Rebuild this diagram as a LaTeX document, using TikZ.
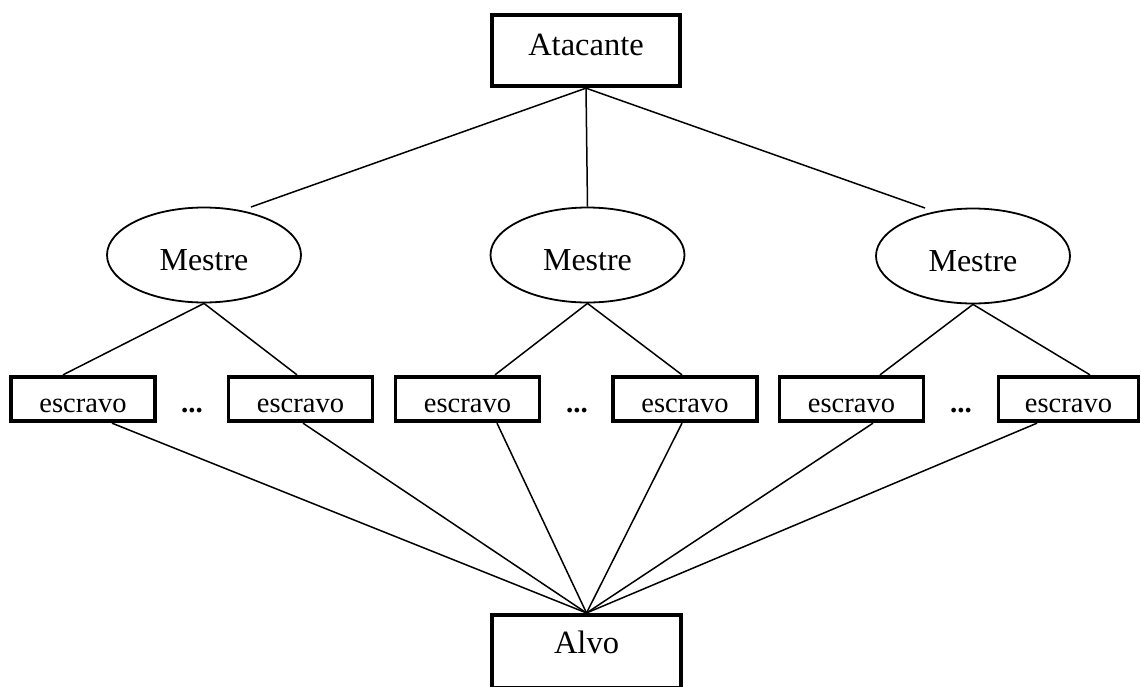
\documentclass[tikz,border=0pt]{standalone}
\usepackage{fontspec}
\setmainfont{Liberation Serif}
\usetikzlibrary{shapes.geometric}
\begin{document}
\begin{tikzpicture}[x=1pt,y=-1pt,
  thickbox/.style={draw, line width=3.8pt, rectangle, inner sep=0pt, fill=white},
  topbox/.style={thickbox, minimum width=188.5pt, text height=40.25pt, text depth=31.25pt, font=\fontsize{32.5}{38}\selectfont},
  targetbox/.style={thickbox, minimum width=189.5pt, text height=38.25pt, text depth=35pt, font=\fontsize{32.5}{38}\selectfont},
  slave/.style={thickbox, minimum width=144pt, text height=35.25pt, text depth=9.25pt, font=\fontsize{28.5}{34}\selectfont},
  master/.style={draw, ellipse, line width=1.8pt, minimum width=194pt, minimum height=95pt, inner sep=0pt, text height=30pt, text depth=0pt, font=\fontsize{32}{38}\selectfont},
  dotsnode/.style={anchor=base, inner sep=0pt, font=\fontsize{29}{34}\selectfont\bfseries},
  link/.style={line width=1.5pt}]
\useasboundingbox (0,0) rectangle (1141,686);
\clip (0,0) rectangle (1141,686);

% nodes
\node[topbox] (ata) at (586,50.5) {Atacante};
\node[master] (m1) at (204,255) {Mestre};
\node[master] (m2) at (587.5,255) {Mestre};
\node[master] (m3) at (973,256) {Mestre};

\node[slave] (b1) at (83,399) {escravo};
\node[slave] (b2) at (300.5,399) {escravo};
\node[slave] (b3) at (467.5,399) {escravo};
\node[slave] (b4) at (685,399) {escravo};
\node[slave] (b5) at (851.5,399) {escravo};
\node[slave, minimum width=140pt] (b6) at (1068.5,399) {escravo};

\node[dotsnode] (d1) at (192,412) {...};
\node[dotsnode] (d2) at (577,412) {...};
\node[dotsnode] (d3) at (961,412) {...};

\node[targetbox] (alvo) at (586.5,651.5) {Alvo};

% free ends above the side ellipses
\coordinate (m1top) at (251,207);
\coordinate (m3top) at (925,208);

% connectors
\draw[link] (ata.south) -- (m1top);
\draw[link] (ata.south) -- (m2.north);
\draw[link] (ata.south) -- (m3top);

\draw[link] (m1.south) -- ([xshift=-20pt]b1.north);
\draw[link] (m1.south) -- ([xshift=-3.5pt]b2.north);
\draw[link] (m2.south) -- ([xshift=27.5pt]b3.north);
\draw[link] (m2.south) -- ([xshift=-3pt]b4.north);
\draw[link] (m3.south) -- ([xshift=28.5pt]b5.north);
\draw[link] (m3.south) -- ([xshift=21.5pt]b6.north);

\draw[link] ([xshift=29pt]b1.south) -- (alvo.north);
\draw[link] ([xshift=2.5pt]b2.south) -- (alvo.north);
\draw[link] ([xshift=29.5pt]b3.south) -- (alvo.north);
\draw[link] ([xshift=-3pt]b4.south) -- (alvo.north);
\draw[link] ([xshift=21.5pt]b5.south) -- (alvo.north);
\draw[link] ([xshift=-31.5pt]b6.south) -- (alvo.north);
\end{tikzpicture}
\end{document}
